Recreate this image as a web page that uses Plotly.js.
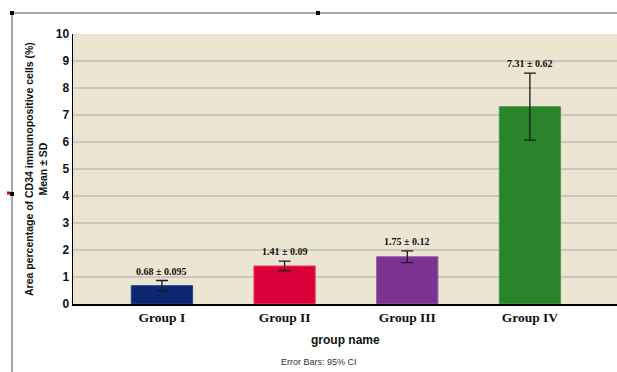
<!DOCTYPE html>
<html>
<head>
<meta charset="utf-8">
<script src="https://cdn.plot.ly/plotly-3.0.1.min.js"></script>
<style>
  html, body { margin: 0; padding: 0; background: #ffffff; }
  #chart { width: 617px; height: 372px; }
</style>
</head>
<body>
<div id="chart"></div>
<script>
// Group means of CD34 area percentage, with 95% CI half-widths for the error bars
const groups = ['Group I', 'Group II', 'Group III', 'Group IV'];
const means = [0.68, 1.41, 1.75, 7.31];
const sdLabels = ['0.095', '0.09', '0.12', '0.62'];
const ci95 = [0.19, 0.18, 0.22, 1.24];
const yTicks = [0, 1, 2, 3, 4, 5, 6, 7, 8, 9, 10];

const barColors = ['#0c2672', '#da0037', '#7b3590', '#2a8429'];
const barEdges = ['#2a4590', '#e8506f', '#9a5aae', '#4aa048'];

const W = 617, H = 372;
const M = { l: 73, r: 0, t: 34, b: 68 };
const plotW = W - M.l - M.r, plotH = H - M.t - M.b;
// helpers to place decorations in paper coordinates from pixel offsets
const px = x => (x - M.l) / plotW;
const py = y => (H - M.b - y) / plotH;

const trace = {
  type: 'bar',
  x: groups,
  y: means,
  width: 0.5,
  marker: { color: barColors, line: { color: barEdges, width: 1 } },
  error_y: { type: 'data', array: ci95, visible: true, color: '#1a1a1a', thickness: 1.3, width: 6 },
  hoverinfo: 'none'
};

const valueNotes = groups.map((g, i) => ({
  x: g, y: means[i] + ci95[i], xref: 'x', yref: 'y',
  text: means[i].toFixed(2) + ' \u00b1 ' + sdLabels[i],
  showarrow: false, yanchor: 'bottom', yshift: 2,
  font: { family: 'Liberation Serif', size: 10, color: '#111', weight: 'bold' }
}));

const annotations = valueNotes.concat([
  {
    xref: 'paper', yref: 'paper', x: px(36), y: 0.5,
    text: 'Area percentage of CD34 immunopositive cells (%)<br>Mean \u00b1 SD',
    textangle: -90, showarrow: false, xanchor: 'center', yanchor: 'middle',
    font: { family: 'Liberation Sans', size: 10.5, color: '#111', weight: 'bold' }
  },
  {
    xref: 'paper', yref: 'paper', x: 0.5, y: py(340),
    text: 'group name', showarrow: false, xanchor: 'center', yanchor: 'middle',
    font: { family: 'Liberation Sans', size: 12, color: '#111', weight: 'bold' }
  },
  {
    xref: 'paper', yref: 'paper', x: px(319), y: py(362),
    text: 'Error Bars: 95% CI', showarrow: false, xanchor: 'center', yanchor: 'middle',
    font: { family: 'Liberation Sans', size: 9, color: '#333' }
  }
]);

// surrounding frame and selection handles
const sq = (cx, cy, s, color) => ({
  type: 'rect', xref: 'paper', yref: 'paper',
  x0: px(cx - s / 2), x1: px(cx + s / 2), y0: py(cy + s / 2), y1: py(cy - s / 2),
  fillcolor: color, line: { width: 0 }, layer: 'above'
});
const shapes = [
  { type: 'line', xref: 'paper', yref: 'paper', x0: px(12), x1: px(617), y0: py(13), y1: py(13),
    line: { color: '#8a8a8a', width: 1.5 } },
  { type: 'line', xref: 'paper', yref: 'paper', x0: px(12), x1: px(12), y0: py(13), y1: py(372),
    line: { color: '#8a8a8a', width: 1.5 } },
  sq(12, 13, 4, '#000'),
  sq(318, 13, 4, '#000'),
  sq(12, 194, 4, '#000'),
  sq(8.5, 193, 3, '#e00000')
];

const layout = {
  width: W, height: H,
  margin: M,
  paper_bgcolor: '#ffffff',
  plot_bgcolor: '#ebe5d2',
  showlegend: false,
  bargap: 0.5,
  xaxis: {
    range: [-0.725, 3.71],
    showline: true, linecolor: '#000', linewidth: 1.5,
    ticks: '', showgrid: false, zeroline: false,
    tickfont: { family: 'Liberation Serif', size: 13.5, color: '#111', weight: 'bold' },
    fixedrange: true
  },
  yaxis: {
    range: [0, 10],
    tickvals: yTicks, ticktext: yTicks.map(String),
    showline: true, linecolor: '#000', linewidth: 1.5,
    ticks: '', showgrid: true, gridcolor: '#cbc7bb', gridwidth: 1.3, zeroline: false,
    tickfont: { family: 'Liberation Sans', size: 12, color: '#111', weight: 'bold' },
    fixedrange: true
  },
  annotations: annotations,
  shapes: shapes
};

Plotly.newPlot('chart', [trace], layout, { displayModeBar: false, staticPlot: true });
</script>
</body>
</html>
